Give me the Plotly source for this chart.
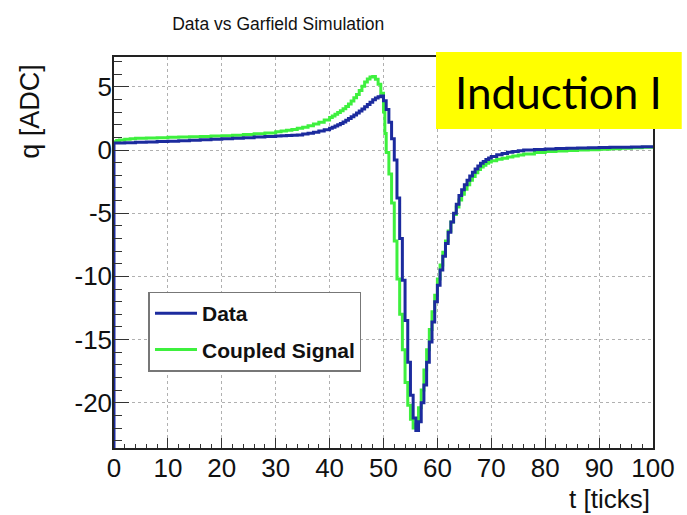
import plotly.graph_objects as go

# Axis limits
X_MIN, X_MAX = 0, 100
Y_MIN, Y_MAX = -23.58, 7.36

# Tick labels (plain hyphen for negatives)
x_ticks = [0, 10, 20, 30, 40, 50, 60, 70, 80, 90, 100]
x_labels = ["0", "10", "20", "30", "40", "50", "60", "70", "80", "90", "100"]
y_ticks = [-20, -15, -10, -5, 0, 5]
y_labels = ["-20", "-15", "-10", "-5", "0", "5"]

# Measured pulse, binned histogram (bin left edges in ticks, charge in ADC)
t_data = [0, 2, 4, 6, 8, 10, 12, 14, 16, 18, 20, 22, 24, 26, 28, 30, 31, 32, 33, 34,
          35, 36, 37, 38, 39, 40, 40.5, 41, 41.5, 42, 42.5, 43, 43.5, 44, 44.5, 45,
          45.5, 46, 46.5, 47, 47.5, 48, 48.5, 49, 49.5, 50, 50.5, 51, 51.5, 52, 52.5,
          53, 53.5, 54, 54.5, 55, 55.5, 56, 56.5, 57, 57.5, 58, 58.5, 59, 59.5, 60,
          60.5, 61, 61.5, 62, 62.5, 63, 63.5, 64, 64.5, 65, 65.5, 66, 66.5, 67, 67.5,
          68, 68.5, 69, 69.5, 70, 71, 72, 73, 74, 75, 76, 78, 80, 82, 84, 86, 88, 90,
          92, 94, 96, 98, 100]
q_data = [0.55, 0.58, 0.61, 0.64, 0.67, 0.70, 0.74, 0.78, 0.82, 0.86, 0.90, 0.94, 0.98,
          1.02, 1.06, 1.10, 1.12, 1.14, 1.16, 1.19, 1.26, 1.33, 1.41, 1.50, 1.60, 1.72,
          1.80, 1.90, 2.00, 2.10, 2.22, 2.35, 2.50, 2.63, 2.77, 2.92, 3.08, 3.25, 3.42,
          3.60, 3.78, 3.97, 4.12, 4.22, 4.27, 3.90, 3.20, 2.20, 0.90, -0.8, -3.8, -7.0,
          -10.3, -13.5, -16.8, -19.4, -21.2, -22.2, -21.5, -20.0, -18.6, -16.8, -15.2,
          -13.6, -12.0, -10.7, -9.5, -8.4, -7.4, -6.5, -5.7, -5.0, -4.3, -3.6, -3.15,
          -2.75, -2.4, -2.05, -1.75, -1.5, -1.26, -1.05, -0.90, -0.75, -0.63, -0.52,
          -0.38, -0.27, -0.18, -0.11, -0.05, 0.0, 0.05, 0.08, 0.11, 0.13, 0.15, 0.17,
          0.19, 0.21, 0.22, 0.24, 0.26, 0.27]

# Garfield simulation of the coupled induction signal
t_sim = [0, 0.5, 1, 2, 3, 4, 6, 8, 10, 12, 14, 16, 18, 20, 22, 24, 26, 28, 30, 31, 32,
         33, 34, 35, 36, 37, 38, 39, 40, 40.5, 41, 41.5, 42, 42.5, 43, 43.5, 44, 44.5,
         45, 45.5, 46, 46.5, 47, 47.5, 48, 48.5, 49, 49.5, 50, 50.25, 50.5, 51, 51.5,
         52, 52.5, 53, 53.5, 54, 54.5, 55, 55.5, 56, 56.5, 57, 57.5, 58, 58.5, 59, 59.5,
         60, 60.5, 61, 61.5, 62, 62.5, 63, 63.5, 64, 64.5, 65, 65.5, 66, 66.5, 67, 67.5,
         68, 68.5, 69, 69.5, 70, 71, 72, 73, 74, 75, 76, 78, 80, 82, 84, 86, 88, 90, 92,
         94, 96, 98, 100]
q_sim = [0.66, 0.75, 0.80, 0.86, 0.90, 0.93, 0.96, 0.98, 1.00, 1.02, 1.04, 1.07, 1.10,
         1.13, 1.17, 1.22, 1.28, 1.35, 1.44, 1.50, 1.56, 1.63, 1.72, 1.81, 1.92, 2.05,
         2.20, 2.38, 2.58, 2.70, 2.82, 2.96, 3.10, 3.27, 3.45, 3.65, 3.88, 4.13, 4.40,
         4.70, 5.05, 5.38, 5.62, 5.78, 5.82, 5.60, 5.20, 4.50, 3.00, 1.30, -0.2, -1.9,
         -4.2, -7.2, -10.2, -13.0, -15.8, -18.4, -20.2, -21.3, -22.0, -21.7, -20.4,
         -19.0, -17.4, -15.8, -14.2, -12.8, -11.5, -10.2, -9.1, -8.1, -7.2, -6.4, -5.7,
         -5.1, -4.5, -3.95, -3.5, -3.1, -2.75, -2.4, -2.1, -1.8, -1.55, -1.35, -1.2,
         -1.05, -0.95, -0.85, -0.74, -0.65, -0.56, -0.47, -0.39, -0.32, -0.20, -0.12,
         -0.07, -0.03, 0.0, 0.03, 0.07, 0.10, 0.14, 0.18, 0.22, 0.25]

BLUE = "#1c2b9e"
GREEN = "#3ef03e"
FONT = "Liberation Sans, Arial, sans-serif"

fig = go.Figure()

fig.add_trace(go.Scatter(
    x=t_sim, y=q_sim, mode="lines", name="Coupled Signal",
    line=dict(color=GREEN, width=3, shape="hv"),
    legendgroup="sim", legendrank=2,
))
# histogram outline starts from the bottom of the frame
fig.add_trace(go.Scatter(
    x=[t_data[0]] + t_data, y=[Y_MIN] + q_data, mode="lines", name="Data",
    line=dict(color=BLUE, width=3, shape="hv"),
    legendgroup="data", legendrank=1,
))

axis_common = dict(
    showline=True, mirror=True, linecolor="#222222", linewidth=1.5,
    ticks="inside", tickcolor="#333333", tickwidth=1,
    showgrid=True, gridcolor="#b0b0b0", griddash="dot", gridwidth=1,
    zeroline=False,
    tickfont=dict(family=FONT, size=26, color="#111111"),
)

fig.update_xaxes(
    range=[X_MIN, X_MAX], tickvals=x_ticks, ticktext=x_labels, ticklen=10,
    ticklabelstandoff=-4,
    minor=dict(dtick=2, tick0=0, ticks="inside", ticklen=4, tickcolor="#333333",
               showgrid=False),
    **axis_common,
)
fig.update_yaxes(
    range=[Y_MIN, Y_MAX], tickvals=y_ticks, ticktext=y_labels, ticklen=15,
    ticklabelstandoff=-5,
    minor=dict(dtick=1, tick0=0, ticks="inside", ticklen=8, tickcolor="#333333",
               showgrid=False),
    **axis_common,
)

fig.update_layout(
    width=687, height=515,
    margin=dict(l=114, r=29, t=57, b=67),
    paper_bgcolor="white", plot_bgcolor="white",
    showlegend=True,
    legend=dict(
        x=0.064, y=0.4, xanchor="left", yanchor="top",
        bgcolor="white", bordercolor="#777777", borderwidth=1.5,
        font=dict(family=FONT, size=21, color="#111111", weight="bold"),
        traceorder="grouped", tracegroupgap=6, itemwidth=42,
        entrywidth=175, entrywidthmode="pixels",
    ),
    title=dict(
        text="Data vs Garfield Simulation", x=0.405, xanchor="center",
        y=0.953, yanchor="middle",
        font=dict(family=FONT, size=17.5, color="#111111"),
    ),
)

# axis titles
fig.add_annotation(
    text="q [ADC]", xref="paper", yref="paper", x=-0.156, y=0.862,
    textangle=-90, showarrow=False, xanchor="center", yanchor="middle",
    font=dict(family=FONT, size=27, color="#111111"),
)
fig.add_annotation(
    text="t [ticks]", xref="paper", yref="paper", x=0.998, y=-0.131,
    showarrow=False, xanchor="right", yanchor="middle",
    font=dict(family=FONT, size=26, color="#111111"),
)

# plane label
fig.add_shape(
    type="rect", xref="paper", yref="paper",
    x0=(439 - 114) / 544, x1=(687 - 114) / 544,
    y0=(448 - 129) / 391, y1=(448 - 52) / 391,
    fillcolor="#ffff00", line=dict(width=0), layer="above",
)
fig.add_annotation(
    text="Induction I", xref="paper", yref="paper",
    x=(563 - 114) / 544, y=(448 - 92) / 391,
    showarrow=False, xanchor="center", yanchor="middle",
    font=dict(family="Lato, sans-serif", size=44, color="black"),
)

fig.write_html("out.html")
